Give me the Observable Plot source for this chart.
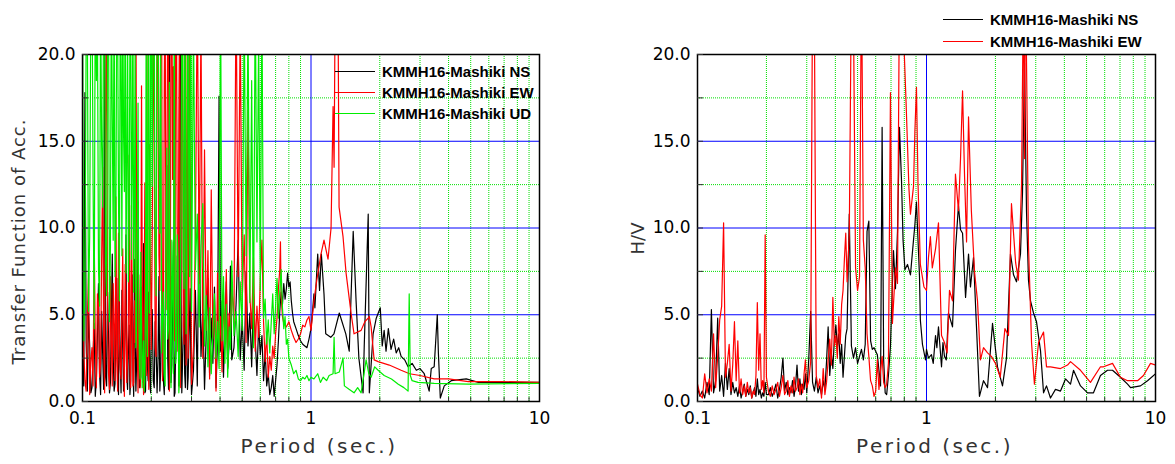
<!DOCTYPE html>
<html><head><meta charset="utf-8">
<script src="https://cdn.jsdelivr.net/npm/d3@7"></script>
<script src="https://cdn.jsdelivr.net/npm/@observablehq/plot@0.6"></script>
<style>
body{margin:0;background:#fff;}
#wrap{position:relative;width:1175px;height:464px;overflow:hidden;background:#fff;}
#left{position:absolute;left:0;top:0;}
#right{position:absolute;left:587px;top:0;}
.legend{position:absolute;left:0;top:0;font:bold 15px "Liberation Sans",Arial,sans-serif;color:#000;}
.row{position:absolute;height:20px;display:flex;align-items:center;white-space:nowrap;}
.sw{display:inline-block;width:40px;height:0;border-top:1px solid;margin-right:7px;}
</style></head>
<body><div id="wrap"><div id="left"></div><div id="right"></div><div id="legL" class="legend"></div><div id="legR" class="legend"></div></div>
<script>
// ---------- axes / ticks ----------
const xTickValues = [0.1, 1, 10];
const xTickLabels = ["0.1", "1", "10"];
const xMinor = [0.2,0.3,0.4,0.5,0.6,0.7,0.8,0.9,2,3,4,5,6,7,8,9];
const xMajor = [1];
const yTickValues = [0, 5, 10, 15, 20];
const yMinor = [2.5, 7.5, 12.5, 17.5];
const yMajor = [5, 10, 15];
const yTickAll = [0, 2.5, 5, 7.5, 10, 12.5, 15, 17.5, 20];
const xTitle = "Period (sec.)";
const yTitleLeft = "Transfer Function of Acc.";
const yTitleRight = "H/V";

// ---------- legends ----------
const tfLabels = ["KMMH16-Mashiki NS", "KMMH16-Mashiki EW", "KMMH16-Mashiki UD"];
const hvLabels = ["KMMH16-Mashiki NS", "KMMH16-Mashiki EW"];
const colors = ["#000000", "#ff0000", "#00ee00"];

// ---------- period sampling grids (sec.) ----------
const tfPeriodsA = [0.10000,0.10125,0.10250,0.10375,0.10500,0.10625,0.10750,0.10875,0.11000,0.11125,0.11250,0.11375,0.11500,0.11625,0.11750,0.11875,0.12000,0.12125,0.12250,0.12375,0.12500,0.12625,0.12750,0.12875,0.13000,0.13125,0.13250,0.13375,0.13500,0.13625,0.13750,0.13875,0.14000,0.14125,0.14250,0.14375,0.14500,0.14625,0.14750,0.14875,0.15000,0.15125,0.15250,0.15375,0.15500,0.15625,0.15750,0.15875,0.16000,0.16125,0.16250,0.16375,0.16500,0.16625,0.16750,0.16875,0.17000,0.17125,0.17250,0.17375,0.17500,0.17625,0.17750,0.17875,0.18000,0.18125,0.18250,0.18375,0.18500,0.18625,0.18750,0.18875,0.19000,0.19125,0.19250,0.19375,0.19500,0.19625,0.19750,0.19875,0.20000];
const tfPeriodsB = [0.202,0.204,0.206,0.208,0.210,0.212,0.214,0.216,0.218,0.220,0.222,0.224,0.226,0.228,0.230,0.232,0.234,0.236,0.238,0.240,0.242,0.244,0.246,0.248,0.250,0.252,0.254,0.256,0.258,0.260,0.262,0.264,0.266,0.268,0.270,0.272,0.274,0.276,0.278,0.280,0.282,0.284,0.286,0.288,0.290,0.292,0.294,0.296,0.298,0.300];
const hvPeriodsA = [0.1000,0.1025,0.1050,0.1075,0.1100,0.1125,0.1150,0.1175,0.1200,0.1225,0.1250,0.1275,0.1300,0.1325,0.1350,0.1375,0.1400,0.1425,0.1450,0.1475,0.1500,0.1525,0.1550,0.1575,0.1600,0.1625,0.1650,0.1675,0.1700,0.1725,0.1750,0.1775,0.1800,0.1825,0.1850,0.1875,0.1900,0.1925,0.1950,0.1975,0.2000];
const hvPeriodsB = [0.204,0.208,0.212,0.216,0.220,0.224,0.228,0.232,0.236,0.240,0.244,0.248,0.252,0.256,0.260,0.264,0.268,0.272,0.276,0.280,0.284,0.288,0.292,0.296,0.300];
const periodsC = [0.306,0.312,0.318,0.324,0.330,0.336,0.342,0.348,0.354,0.360,0.366,0.372,0.378,0.384,0.390,0.396,0.402,0.408,0.414,0.420,0.426,0.432,0.438,0.444,0.450];
const periodsD = [0.46,0.47,0.48,0.49,0.50,0.51,0.52,0.53,0.54,0.55,0.56,0.57,0.58,0.59,0.60,0.61,0.62,0.63,0.64,0.65,0.66];

// ---------- Transfer function NS ----------
const tfNS_A = [2.5,0.9,17.8,3.4,0.6,5.1,3.2,0.5,0.8,2.7,4.5,0.3,1.2,3.9,6.8,1.6,0.4,5.2,2.8,0.7,25,1.4,0.9,6.3,3.6,0.5,1.1,4.9,8.5,2.6,0.6,1.0,4.2,7.1,1.5,0.4,5.8,2.3,0.5,6.4,3.1,0.6,1.8,4.3,9.6,1.5,0.7,3.2,4.4,0.4,1.2,5.6,7.3,1.9,0.3,8.2,3.8,0.6,2.2,4.1,11.5,2.7,0.8,0.9,5.2,6.6,1.4,1.1,9.1,3.7,0.5,0.6,3.5,7.9,2.0,1.2,6.3,3.1,0.9,0.5,4.8];
const tfNS_B = [5.3,1.2,0.8,4.6,3.1,0.5,2.4,7.2,0.6,1.8,5.9,3.3,1.2,0.4,4.4,9.8,13.6,2.5,0.7,24,6.8,1.1,2.1,5.4,9.2,0.3,0.5,3.8,2.9,8.4,4.7,0.9,1.3,22,6.1,0.5,2.2,4.1,7.4,1.6,0.8,11.3,3.5,0.7,1.4,3.2,4.9,6.5,2.1,0.4];
const tfNS_C = [1.8,6.4,0.9,11.2,2.6,5.3,0.7,3.9,7.1,1.5,4.8,2.2,6.6,0.8,3.5,17.6,2.9,5.8,1.4,4.2,6.9,1.9,3.3,7.8,2.4];
const tfNS_D = [3.1,5.6,9.3,2.4,4.7,1.8,7.5,3.2,5.1,2.0,6.2,3.6,1.5,4.4,2.7,3.8,1.2,2.9,0.9,1.6,0.4];
const tfNS_tail = [[0.67,0.8],[0.68,1.5],[0.69,0.3],[0.70,1.2],[0.71,2.1],[0.72,3.5],[0.73,5.2],[0.74,6.3],[0.75,5.6],[0.76,6.8],[0.77,5.9],[0.78,6.5],[0.79,7.4],[0.80,6.6],[0.81,6.9],[0.82,5.8],[0.83,5.1],[0.84,4.6],[0.86,4.2],[0.88,3.8],[0.90,3.5],[0.92,3.3],[0.94,3.2],[0.96,3.1],[0.98,3.6],[1.0,4.2],[1.01,4.8],[1.03,6.2],[1.04,5.4],[1.07,8.5],[1.09,6.4],[1.11,8.5],[1.14,6.2],[1.16,3.9],[1.22,3.7],[1.26,3.9],[1.33,5.1],[1.42,3.9],[1.47,2.9],[1.53,9.8],[1.575,5.8],[1.62,2.5],[1.69,0.5],[1.71,3.2],[1.78,10.8],[1.80,0.5],[1.87,3.9],[1.93,4.8],[2.01,5.4],[2.05,3.2],[2.09,4.1],[2.13,2.9],[2.18,4.2],[2.24,3.0],[2.30,3.6],[2.36,2.8],[2.42,3.1],[2.48,2.6],[2.57,2.4],[2.66,2.0],[2.77,2.2],[2.89,1.8],[3.0,1.9],[3.13,1.6],[3.29,0.6],[3.36,1.9],[3.46,2.0],[3.57,5.0],[3.61,2.8],[3.68,0.2],[3.83,0.9],[4.11,1.2],[4.78,1.3],[5.4,1.1],[6.8,1.1],[10,1.1]];

// ---------- Transfer function EW ----------
const tfEW_A = [6.5,2.9,1.2,0.6,4.8,7.4,0.4,2.3,3.1,0.9,9.5,3.6,0.8,6.2,5.6,1.4,2.2,8.1,13.5,3.3,0.5,16.5,22,4.1,1.6,0.7,7.2,3.5,0.9,6.8,4.3,1.2,11.8,2.4,0.6,9.7,3.9,1.8,1.3,5.1,8.8,2.6,0.3,7.9,5.5,1.1,2.7,4.6,14.2,2.2,0.8,11.3,6.1,0.9,1.1,5.8,3.4,24,10.5,2.8,0.5,7.3,4.6,0.8,2.1,18.2,7.8,3.6,0.4,6.4,12.6,4.1,1.5,21,5.3,2.5,0.7,14.8,9.4,6.7,3.0];
const tfEW_B = [9.8,24,15.2,3.1,2.6,22,21,8.4,6.4,25,23,1.2,3.7,18.6,24,5.3,11.5,23,22,0.6,4.8,21,25,12.8,19.3,3.5,6.2,25,22,7.1,2.9,16.2,23,0.8,8.8,24,21,4.4,3.3,19.5,24,2.1,10.6,22,2.5,6.3,23,14.7,9.1,1.0];
const tfEW_C = [3.2,9.5,24,6.8,22,2.5,14.5,4.1,8.7,1.3,12.2,3.6,5.9,0.6,7.4,2.8,4.9,1.7,6.3,3.4,7.6,2.0,5.1,4.0,6.8];
const tfEW_D = [4.5,24,7.2,22,5.8,9.6,3.4,16.8,6.1,4.2,8.3,2.9,5.5,3.7,7.1,9.3,4.6,2.3,3.9,1.4,2.6];
const tfEW_tail = [[0.67,1.8],[0.68,3.2],[0.69,2.5],[0.70,3.9],[0.71,4.8],[0.72,6.5],[0.73,7.6],[0.735,9.2],[0.74,6.1],[0.75,4.9],[0.76,4.5],[0.78,4.3],[0.80,4.6],[0.82,4.1],[0.84,3.7],[0.86,3.4],[0.88,3.6],[0.90,3.9],[0.92,4.4],[0.94,4.3],[0.96,4.7],[0.98,4.9],[1.0,4.1],[1.03,5.8],[1.06,7.0],[1.106,8.5],[1.14,9.3],[1.187,8.2],[1.224,10],[1.249,17],[1.262,13.5],[1.274,22],[1.30,25],[1.314,22],[1.327,11.2],[1.381,9.5],[1.424,7.4],[1.497,5.1],[1.543,3.9],[1.657,4.1],[1.72,4.6],[1.778,4.8],[1.80,4.9],[1.833,4.3],[1.889,2.4],[1.967,2.3],[2.2,2.1],[2.48,1.8],[2.7,1.6],[3.0,1.5],[3.46,1.3],[4.0,1.3],[4.88,1.15],[6.8,1.15],[10,1.1]];

// ---------- Transfer function UD ----------
const tfUD_A = [24,3.5,6.8,21,22,5.2,9.5,23,25,12.5,4.2,25,18.5,22,7.6,5.5,24,14.8,11.2,24,21,7.9,6.1,22,23,4.6,8.9,25,16.4,9.3,25,7.2,10.3,24,22,11.6,5.8,23,19.6,8.4,24,15.5,12.1,25,7.4,13.8,22,6.9,9.8,21,25,8.2,13.6,24,6.3,10.5,21,3.1,4.5,9.8,17.2,5.4,2.1,1.3,8.6,4.7,0.8,2.2,3.5,0.6,1.2,6.2,24,3.8,2.6,25,22,5.1,9.1,21,25];
const tfUD_B = [12.4,22,23,8.5,6.1,25,24,14.3,9.7,21,2.8,4.8,6.3,1.5,0.9,10.2,14.6,3.6,4.2,18.4,2.5,0.8,9.3,6.5,1.6,24,7.4,2.2,3.1,9.6,8.2,0.5,1.4,5.1,12.6,22,25,7.8,6.5,24,18.7,3.9,5.5,21,22,11.4,7.2,25,24,5.2];
const tfUD_C = [22,7.6,10.8,4.3,8.9,11.4,3.2,6.1,2.0,5.4,1.6,3.8,6.2,2.5,4.6,1.9,24,3.5,7.2,2.2,5.6,1.4,4.3,3.0,8.1];
const tfUD_D = [3.8,5.2,2.6,6.9,4.1,23,8.4,22,5.7,18.5,3.1,24,9.2,21,6.4,23,4.8,5.9,3.3,4.7,2.8];
const tfUD_tail = [[0.67,4.6],[0.68,6.2],[0.69,3.9],[0.70,5.5],[0.71,7.1],[0.72,4.8],[0.73,6.3],[0.74,7.6],[0.75,5.4],[0.76,4.2],[0.77,4.9],[0.78,3.3],[0.79,3.6],[0.80,2.5],[0.82,2.1],[0.84,1.6],[0.86,1.8],[0.88,1.3],[0.90,1.2],[0.92,1.4],[0.94,1.3],[0.96,1.5],[0.98,1.2],[1.0,1.4],[1.03,1.3],[1.07,1.6],[1.10,1.1],[1.13,1.4],[1.17,1.2],[1.2,1.5],[1.249,1.6],[1.262,3.7],[1.274,1.6],[1.33,1.7],[1.381,2.5],[1.40,0.9],[1.467,0.7],[1.543,0.5],[1.60,0.8],[1.657,0.5],[1.743,2.4],[1.79,1.6],[1.833,1.4],[1.90,2.0],[1.967,1.8],[2.09,1.5],[2.25,1.3],[2.41,1.0],[2.55,0.8],[2.66,0.6],[2.69,6.2],[2.72,1.5],[2.77,1.2],[2.94,1.1],[3.46,1.05],[4.88,1.0],[10,1.05]];

// ---------- H/V NS ----------
const hvNS_A = [0.8,0.3,0.6,0.2,1.1,0.4,5.3,0.5,1.2,4.8,0.6,1.5,0.3,2.2,0.7,1.9,0.4,1.1,0.5,0.8,0.3,0.9,0.2,0.6,1.0,0.3,0.7,0.4,0.9,0.2,0.5,0.8,0.3,1.3,0.4,0.7,0.2,0.5,0.3,1.1,0.4];
const hvNS_B = [0.4,0.8,0.3,0.6,1.0,0.2,0.7,1.4,2.5,0.6,1.1,0.4,0.8,0.5,1.2,0.3,0.9,2.1,0.6,1.3,0.4,1.0,0.7,1.6,0.5];
const hvNS_C = [2.4,5.2,1.1,0.6,1.4,0.5,0.9,0.4,1.2,0.7,2.3,4.3,1.5,2.8,1.9,3.6,4.4,3.1,3.9,2.2,3.3,1.4,2.6,3.8,4.2];
const hvNS_D = [10.8,3.2,2.5,3.1,2.2,2.6,3.0,2.4,3.3,9.8,10.4,3.5,3.0,3.1,2.9,2.7,1.8,0.9,15.8,2.4,0.5];
const hvNS_tail = [[0.67,0.4],[0.682,1.5],[0.696,3.2],[0.7175,8.7],[0.732,6.5],[0.747,9.8],[0.762,15.8],[0.778,12.7],[0.79,9.3],[0.805,7.6],[0.826,7.9],[0.851,7.3],[0.8775,9.3],[0.89,10.2],[0.904,11.5],[0.932,7.2],[0.94,4.7],[0.96,3.3],[0.99,2.4],[1.0,3.0],[1.02,2.5],[1.051,2.7],[1.07,2.2],[1.095,3.8],[1.11,3.1],[1.128,4.3],[1.163,2.0],[1.18,3.4],[1.198,2.6],[1.22,2.4],[1.247,5.1],[1.299,4.3],[1.338,8.7],[1.379,11.3],[1.408,9.9],[1.437,9.7],[1.481,6.0],[1.526,8.5],[1.556,6.6],[1.604,8.3],[1.653,4.3],[1.703,0.3],[1.774,1.2],[1.847,0.8],[1.942,4.5],[2.042,2.0],[2.147,0.9],[2.235,2.5],[2.327,8.5],[2.399,7.3],[2.472,6.9],[2.573,8.5],[2.625,12.0],[2.679,19.5],[2.733,11.0],[2.788,7.0],[2.846,5.8],[2.933,5.1],[3.022,4.6],[3.148,2.9],[3.244,0.5],[3.342,0.9],[3.479,0.2],[3.658,0.7],[3.847,0.6],[4.046,1.3],[4.254,1.0],[4.385,1.8],[4.705,0.9],[5.049,0.5],[5.36,0.5],[5.75,1.5],[6.17,1.8],[6.49,1.8],[7.03,1.4],[7.55,1.0],[7.78,0.8],[8.6,0.9],[9.23,1.2],[10,1.6]];

// ---------- H/V EW ----------
const hvEW_A = [1.0,0.4,0.2,1.6,0.5,1.3,0.6,3.9,0.8,2.6,4.7,5.5,10.3,1.4,2.2,3.3,0.6,2.1,4.6,1.2,3.5,0.5,1.3,0.4,0.9,0.3,1.1,0.5,0.8,0.2,0.6,0.4,1.5,5.7,1.8,3.9,0.7,1.2,0.5,9.6,1.4];
const hvEW_B = [0.6,0.3,0.9,0.4,0.7,1.1,0.3,0.8,1.5,0.4,0.6,1.2,0.3,0.9,0.5,1.4,0.6,0.8,1.3,0.4,1.0,0.5,1.6,2.4,0.8];
const hvEW_C = [1.2,2.3,24,22,1.5,0.8,1.3,0.2,1.9,0.4,1.1,2.4,3.6,2.1,6.0,3.2,3.8,2.5,4.9,3.3,5.6,6.4,8.2,9.7,6.9];
const hvEW_D = [9.6,24,22,7.7,6.4,7.2,25,9.3,7.7,3.9,2.6,1.2,0.9,0.3,0.6,2.4,0.7,1.8,2.6,1.1,0.8];
const hvEW_tail = [[0.67,1.0],[0.682,2.2],[0.696,17.8],[0.71,4.5],[0.732,7.7],[0.747,6.8],[0.762,24],[0.77,21],[0.778,25],[0.79,22],[0.814,17.3],[0.838,12.3],[0.851,10.8],[0.8775,12.4],[0.89,15.6],[0.904,18.1],[0.918,12.6],[0.94,7.9],[0.975,6.6],[1.0,6.4],[1.02,8.3],[1.04,9.5],[1.06,7.7],[1.095,8.8],[1.128,10.3],[1.163,3.8],[1.198,3.4],[1.23,2.8],[1.26,6.4],[1.299,5.8],[1.338,13.1],[1.379,11.0],[1.408,14.0],[1.437,17.9],[1.466,13.0],[1.496,9.2],[1.526,16.4],[1.57,11.0],[1.62,7.5],[1.67,5.8],[1.72,2.4],[1.774,3.1],[1.847,2.8],[1.92,2.6],[2.0,2.2],[2.1,1.4],[2.2,4.2],[2.28,3.8],[2.35,11.4],[2.45,8.0],[2.52,7.0],[2.6,12.5],[2.65,24],[2.679,14],[2.706,25],[2.788,9.0],[2.875,3.4],[2.96,1.0],[3.085,3.4],[3.244,4.0],[3.342,2.0],[3.479,2.0],[3.847,1.9],[4.13,2.1],[4.254,2.3],[4.705,1.8],[5.2,1.1],[5.75,2.0],[5.93,2.0],[6.49,2.2],[7.03,1.4],[7.55,1.2],[8.35,1.2],[8.86,1.5],[9.51,2.2],[10,2.1]];

// ---------- build tables ----------
const tfGrid = [...tfPeriodsA, ...tfPeriodsB, ...periodsC, ...periodsD];
const hvGrid = [...hvPeriodsA, ...hvPeriodsB, ...periodsC, ...periodsD];
function buildSeries(grid, parts, tail) {
  const vals = [].concat(...parts);
  if (vals.length !== grid.length) console.warn("length mismatch", vals.length, grid.length);
  const rows = grid.map((p, i) => ({period: p, value: vals[i]})).filter(r => r.value != null);
  for (const [p, v] of tail) rows.push({period: p, value: v});
  return rows;
}
const tfSeries = [
  buildSeries(tfGrid, [tfNS_A, tfNS_B, tfNS_C, tfNS_D], tfNS_tail),
  buildSeries(tfGrid, [tfEW_A, tfEW_B, tfEW_C, tfEW_D], tfEW_tail),
  buildSeries(tfGrid, [tfUD_A, tfUD_B, tfUD_C, tfUD_D], tfUD_tail)
];
const hvSeries = [
  buildSeries(hvGrid, [hvNS_A, hvNS_B, hvNS_C, hvNS_D], hvNS_tail),
  buildSeries(hvGrid, [hvEW_A, hvEW_B, hvEW_C, hvEW_D], hvEW_tail)
];

const FONT = '"DejaVu Sans", Verdana, sans-serif';
function panel(series, opts) {
  const svg = Plot.plot({
    width: opts.width, height: 464,
    marginTop: 54, marginBottom: 63, marginLeft: opts.marginLeft, marginRight: opts.marginRight,
    style: {fontFamily: FONT, fontSize: "17px", color: "#000", background: "#fff", overflow: "visible"},
    x: {type: "log", domain: [0.1, 10], label: null},
    y: {domain: [0, 20], label: null},
    marks: [
      Plot.ruleX(xMinor, {stroke: "#00e000", strokeDasharray: "1,1", strokeWidth: 1}),
      Plot.ruleY(yMinor, {stroke: "#00e000", strokeDasharray: "1,1", strokeWidth: 1}),
      Plot.ruleX(xMajor, {stroke: "#0000ff", strokeWidth: 1}),
      Plot.ruleY(yMajor, {stroke: "#0000ff", strokeWidth: 1}),
      ...series.map((s, i) => Plot.line(s, {x: "period", y: "value", stroke: colors[i], strokeWidth: 1.2, clip: true})),
      Plot.frame({stroke: "#000", strokeWidth: 1.5}),
      Plot.axisX({ticks: xMinor, tickSize: -4, tickFormat: () => "", stroke: "#333"}),
      Plot.axisX({ticks: xTickValues, tickSize: 0, tickPadding: 10, tickFormat: d => xTickLabels[xTickValues.indexOf(d)]}),
      Plot.axisY({ticks: yTickAll, tickSize: -6, tickFormat: () => "", stroke: "#333"}),
      Plot.axisY({ticks: yTickValues, tickSize: 0, tickPadding: 7, tickFormat: d => d.toFixed(1)}),
      Plot.text([opts.yTitle], {frameAnchor: "left", textAnchor: "middle", lineAnchor: "middle", rotate: -90, dx: opts.yDx, dy: opts.yDy, fontSize: 18, fill: "#333"}),
      Plot.text([xTitle], {frameAnchor: "bottom", textAnchor: "middle", lineAnchor: "middle", dx: opts.xDx, dy: 45, fontSize: 20, fill: "#333"})
    ]
  });
  svg.querySelectorAll("text").forEach(t => {
    if (t.textContent === xTitle) t.setAttribute("letter-spacing", "2.5");
    if (t.textContent === yTitleLeft) t.setAttribute("letter-spacing", "1");
  });
  return svg;
}

document.getElementById("left").append(panel(tfSeries, {width: 587, marginLeft: 82, marginRight: 48, yTitle: yTitleLeft, yDx: -63, yDy: 13.5, xDx: 8}));
document.getElementById("right").append(panel(hvSeries, {width: 588, marginLeft: 110, marginRight: 20, yTitle: yTitleRight, yDx: -59, yDy: 10.5, xDx: 8}));

function legend(el, labels, left, tops) {
  labels.forEach((lab, i) => {
    const row = document.createElement("div");
    row.className = "row";
    row.style.left = left + "px";
    row.style.top = (tops[i] - 10) + "px";
    const sw = document.createElement("span");
    sw.className = "sw";
    sw.style.borderTopColor = colors[i];
    row.append(sw, document.createTextNode(lab));
    el.append(row);
  });
}
legend(document.getElementById("legL"), tfLabels, 335, [71, 92, 113]);
legend(document.getElementById("legR"), hvLabels, 943, [19, 41]);
</script>
</body></html>
